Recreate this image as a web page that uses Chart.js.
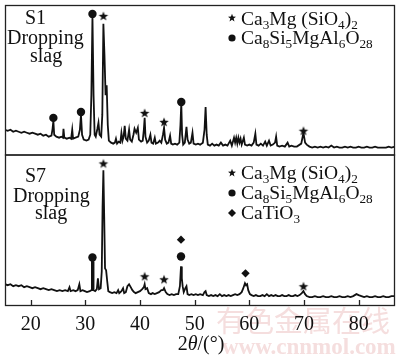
<!DOCTYPE html>
<html><head><meta charset="utf-8">
<script src="https://cdn.jsdelivr.net/npm/chart.js@4"></script>
<style>html,body{margin:0;padding:0;background:#fff}canvas{display:block}</style>
</head><body>
<canvas id="c" width="400" height="355"></canvas>
<script>
// ---- data (2θ in degrees, intensity in arbitrary units) ----
const xTicks = [20, 30, 40, 50, 60, 70, 80];
const s1Pattern = [
[15.3,25],[15.8,24],[16.3,25],[16.8,23],[17.3,24],[17.8,23],[18.3,22],[18.8,23],[19.3,22],[19.8,21],
[20.3,22],[20.8,21],[21.3,20],[21.8,21],[22.3,19],[22.8,20],[23.3,18],[23.8,19],[24.0,26],[24.15,34],
[24.3,20],[24.7,18],[25.2,17],[25.6,18],[25.9,17],[26.0,26],[26.15,17],[26.6,16],[27.1,17],[27.4,16],
[27.6,25],[27.75,16],[28.2,17],[28.7,18],[29.0,25],[29.2,40],[29.4,20],[29.7,15],[30.2,14],[30.6,15],
[30.9,20],[31.1,60],[31.3,140],[31.5,60],[31.7,20],[31.9,18],[32.2,26],[32.4,32],[32.6,20],[32.9,18],
[33.1,40],[33.3,132],[33.5,100],[33.7,60],[33.9,70],[34.1,30],[34.3,14],[34.7,12],[35.1,11],[35.4,12],
[35.6,16],[35.8,11],[36.1,13],[36.4,12],[36.6,22],[36.8,14],[37.0,18],[37.2,29],[37.4,16],[37.7,14],
[38.0,25],[38.2,15],[38.5,13],[38.8,20],[39.0,26],[39.3,22],[39.6,27],[39.8,15],[40.2,13],[40.5,14],
[40.7,25],[40.85,37],[41.0,18],[41.3,12],[41.6,14],[41.9,20],[42.1,12],[42.4,11],[42.7,17],[42.9,11],
[43.3,12],[43.6,14],[43.9,12],[44.2,20],[44.4,27],[44.6,15],[44.9,11],[45.2,12],[45.5,19],[45.7,11],
[46.0,10],[46.4,11],[46.8,10],[47.2,12],[47.4,30],[47.55,52],[47.7,20],[47.9,10],[48.2,12],[48.5,28],
[48.7,15],[49.0,11],[49.3,12],[49.6,22],[49.8,11],[50.2,10],[50.6,11],[51.0,10],[51.5,12],[51.8,25],
[52.0,48],[52.2,20],[52.4,10],[52.8,9],[53.2,11],[53.6,9],[54.0,10],[54.4,9],[54.8,12],[55.2,9],
[55.6,10],[56.0,9],[56.5,14],[56.8,9],[57.2,17],[57.4,12],[57.6,17],[57.8,11],[58.0,17],[58.2,12],
[58.4,16],[58.6,10],[59.0,17],[59.2,10],[59.6,9],[60.0,10],[60.4,9],[60.8,12],[61.1,21],[61.3,10],
[61.7,9],[62.1,11],[62.5,9],[62.9,13],[63.2,9],[63.6,14],[63.9,9],[64.3,10],[64.7,12],[64.9,18],
[65.1,9],[65.5,8],[66.0,9],[66.5,8],[67.0,12],[67.3,8],[67.7,9],[68.2,8],[68.7,8],[69.5,11],
[69.9,22],[70.2,12],[70.5,10],[71.0,8],[71.5,7],[72.0,8],[72.5,7],[73.0,8],[73.5,7],[74.0,8],
[74.5,7],[75.0,9],[75.5,7],[76.0,8],[76.5,7],[77.0,7],[77.5,8],[78.0,7],[78.5,8],[79.0,7],
[79.5,7],[80.0,8],[80.5,7],[81.0,7],[81.5,8],[82.0,7],[82.5,7],[83.0,8],[83.5,7],[84.0,7],
[84.5,7],[85.0,7],[85.5,8],[86.0,7],[86.65,8]
];
const s7Pattern = [
[15.3,22],[15.8,21],[16.3,22],[16.8,20],[17.3,21],[17.8,20],[18.3,21],[18.8,19],[19.3,20],[19.8,19],
[20.3,18],[20.8,19],[21.3,18],[21.8,17],[22.3,18],[22.8,17],[23.3,16],[23.8,17],[24.3,16],[24.8,15],
[25.3,16],[25.8,15],[26.3,16],[26.8,15],[27.1,19],[27.3,15],[27.8,16],[28.2,15],[28.6,16],[28.9,22],
[29.1,15],[29.5,16],[29.9,15],[30.3,14],[30.8,15],[31.1,16],[31.2,45],[31.4,45],[31.5,16],[31.8,15],
[32.1,17],[32.3,28],[32.5,17],[32.8,18],[33.0,35],[33.15,100],[33.3,137],[33.45,90],[33.6,38],[33.8,36],
[34.0,25],[34.2,15],[34.5,14],[34.9,13],[35.3,14],[35.7,13],[36.0,16],[36.2,13],[36.6,15],[36.9,18],
[37.1,13],[37.4,14],[37.7,20],[38.0,22],[38.3,19],[38.6,16],[38.9,14],[39.2,13],[39.6,14],[40.0,15],
[40.4,17],[40.7,19],[40.85,22],[41.0,17],[41.3,18],[41.6,13],[42.0,12],[42.3,13],[42.7,12],[43.1,13],
[43.5,14],[43.9,16],[44.2,16],[44.4,18],[44.7,14],[45.0,12],[45.4,11],[45.8,12],[46.2,11],[46.6,12],
[47.0,12],[47.3,20],[47.5,40],[47.65,28],[47.8,20],[48.0,14],[48.3,18],[48.5,20],[48.7,12],[49.0,11],
[49.4,12],[49.8,11],[50.2,12],[50.6,11],[51.0,12],[51.5,11],[51.8,14],[52.0,15],[52.2,11],[52.6,10],
[53.0,11],[53.4,10],[53.8,11],[54.2,10],[54.6,12],[55.0,10],[55.4,11],[55.8,10],[56.2,11],[56.6,10],
[57.0,11],[57.4,12],[57.8,11],[58.2,12],[58.6,14],[58.9,18],[59.2,23],[59.4,21],[59.6,22],[59.8,16],
[60.1,12],[60.4,11],[60.8,10],[61.2,11],[61.6,10],[62.0,10],[62.4,11],[62.8,10],[63.2,12],[63.6,10],
[64.0,11],[64.4,10],[64.8,11],[65.2,10],[65.6,10],[66.0,11],[66.4,10],[66.8,10],[67.2,11],[67.6,10],
[68.0,10],[68.4,11],[68.8,10],[69.2,11],[69.6,13],[69.9,15],[70.2,12],[70.5,10],[71.0,9],[71.5,9],
[72.0,10],[72.5,9],[73.0,9],[73.5,10],[74.0,9],[74.5,9],[75.0,10],[75.5,9],[76.0,9],[76.5,10],
[77.0,9],[77.5,9],[78.0,10],[78.5,9],[79.0,10],[79.6,12],[80.0,11],[80.5,10],[81.0,9],[81.5,10],
[82.0,9],[82.5,9],[83.0,10],[83.5,9],[84.0,9],[84.5,10],[85.0,9],[85.5,9],[86.0,10],[86.65,10]
];
const s1Stars   = [[33.3,140],[40.85,42],[44.4,33],[69.9,24]];
const s1Circles = [[31.3,142],[24.15,37],[29.2,43],[47.55,53]];
const s7Stars   = [[33.3,144],[40.85,30],[44.4,27],[69.9,20]];
const s7Circles = [[31.3,49],[47.5,50]];
const s7Diamonds= [[47.5,67],[59.3,33]];
const s1Label = ['S1','Dropping','slag'];
const s7Label = ['S7','Dropping','slag'];
const phaseStar = [['Ca',0],['3',1],['Mg (SiO',0],['4',1],[')',0],['2',1]];
const phaseCircle = [['Ca',0],['8',1],['Si',0],['5',1],['MgAl',0],['6',1],['O',0],['28',1]];
const phaseDiamond = [['CaTiO',0],['3',1]];

// ---- helpers ----
const INK = '#111';
const SERIF = '"Liberation Serif", "Times New Roman", serif';
const toXY = arr => arr.map(p => ({x:p[0], y:p[1]}));
function starPath(g, cx, cy, r){
  g.beginPath();
  for(let i=0;i<10;i++){const a=-Math.PI/2+i*Math.PI/5;const rr=i%2?r*0.42:r;g.lineTo(cx+rr*Math.cos(a),cy+rr*Math.sin(a));}
  g.closePath();
}
function starCanvas(r){
  const s=Math.ceil(r*2+2);const c=document.createElement('canvas');c.width=c.height=s;
  const g=c.getContext('2d');g.fillStyle=INK;starPath(g,s/2,s/2+0.5,r);g.fill();return c;
}
const starImg = starCanvas(5);

const lineDs = (pts, axis) => ({type:'line', data: toXY(pts), yAxisID: axis, borderColor: INK, borderWidth: 1.8,
  pointRadius: 0, tension: 0, fill: false, order: 2});
const markDs = (pts, axis, style, r) => ({type:'line', data: toXY(pts), yAxisID: axis, showLine: false,
  pointStyle: style, pointRadius: r, pointBackgroundColor: INK, pointBorderColor: INK, pointBorderWidth: 0, order: 1, clip: false});

function drawRich(g, segs, x, y, size){
  let cx = x;
  for(const [t, sub] of segs){
    const fs = sub ? size*0.68 : size;
    g.font = fs + 'px ' + SERIF;
    g.fillText(t, cx, y + (sub ? size*0.22 : 0));
    cx += g.measureText(t).width;
  }
}

const framePlugin = {
  id: 'frame',
  beforeDraw(chart){
    const g = chart.ctx;
    g.save();
    g.fillStyle = '#f5dede';
    g.font = '29px "Noto Sans CJK SC", sans-serif';
    g.textBaseline = 'alphabetic';
    g.fillText('有色金属在线', 216, 332);
    g.font = 'bold 23px ' + SERIF;
    g.fillText('www.cnnmol.com', 222, 354);
    g.restore();
  },
  afterDraw(chart){
    const g = chart.ctx, a = chart.chartArea, xs = chart.scales.x;
    const top = chart.scales.yTop, bot = chart.scales.yBot;
    g.save();
    g.strokeStyle = '#222'; g.lineWidth = 1.3;
    g.strokeRect(a.left+0.5, top.top+0.5, a.right-a.left-1, top.bottom-top.top);
    g.strokeRect(a.left+0.5, bot.top+0.5, a.right-a.left-1, bot.bottom-bot.top-1);
    // inward tick marks
    g.beginPath();
    for(const v of xTicks){ const px = Math.round(xs.getPixelForValue(v))+0.5; g.moveTo(px, bot.bottom); g.lineTo(px, bot.bottom-6); }
    g.stroke();
    // sample labels
    g.fillStyle = INK; g.textBaseline = 'alphabetic'; g.textAlign = 'left';
    g.font = '20px ' + SERIF;
    g.fillText(s1Label[0], 25, 24); g.fillText(s1Label[1], 7, 44); g.fillText(s1Label[2], 30, 62);
    g.fillText(s7Label[0], 25, 182); g.fillText(s7Label[1], 13, 202); g.fillText(s7Label[2], 35, 219);
    // phase keys
    drawRich(g, phaseStar, 241, 25, 19.5);
    drawRich(g, phaseCircle, 241, 44, 19.5);
    drawRich(g, phaseStar, 241, 179, 19.5);
    drawRich(g, phaseCircle, 241, 199, 19.5);
    drawRich(g, phaseDiamond, 241, 219, 19.5);
    starPath(g, 232, 18, 4.2); g.fill();
    g.beginPath(); g.arc(232, 38, 3.6, 0, Math.PI*2); g.fill();
    starPath(g, 232, 173, 4.2); g.fill();
    g.beginPath(); g.arc(232, 193, 3.6, 0, Math.PI*2); g.fill();
    g.beginPath(); g.moveTo(232, 209); g.lineTo(236, 213); g.lineTo(232, 217); g.lineTo(228, 213); g.closePath(); g.fill();
    // axis title with italic theta
    g.font = '20px ' + SERIF;
    const w1 = g.measureText('2').width;
    g.font = 'italic 20px ' + SERIF;
    const w2 = g.measureText('θ').width;
    g.font = '20px ' + SERIF;
    const w3 = g.measureText('/(°)').width;
    let x0 = 201 - (w1+w2+w3)/2;
    g.fillText('2', x0, 350);
    g.font = 'italic 20px ' + SERIF; g.fillText('θ', x0+w1, 350);
    g.font = '20px ' + SERIF; g.fillText('/(°)', x0+w1+w2, 350);
    g.restore();
  }
};

const hideY = { ticks: { display: false }, grid: { display: false }, border: { display: false },
  afterFit: s => { s.width = 0; } };

new Chart(document.getElementById('c'), {
  type: 'line',
  data: { datasets: [
    lineDs(s1Pattern, 'yTop'),
    lineDs(s7Pattern, 'yBot'),
    markDs(s1Stars, 'yTop', starImg, 5),
    markDs(s1Circles, 'yTop', 'circle', 4.2),
    markDs(s7Stars, 'yBot', starImg, 5),
    markDs(s7Circles, 'yBot', 'circle', 4.2),
    markDs(s7Diamonds, 'yBot', 'rectRot', 4.2)
  ]},
  options: {
    responsive: false, animation: false, devicePixelRatio: 1,
    layout: { padding: { top: 1, left: 1, right: 2, bottom: 0 } },
    plugins: { legend: { display: false }, tooltip: { enabled: false } },
    scales: {
      x: { type: 'linear', min: 15.3, max: 86.65,
        afterBuildTicks: s => { s.ticks = xTicks.map(v => ({value: v})); },
        afterFit: s => { s.height = 49; },
        grid: { display: false, drawTicks: false }, border: { display: false },
        ticks: { color: INK, font: { family: SERIF, size: 20 }, padding: 7, maxRotation: 0 } },
      yBot: Object.assign({ type: 'linear', stack: 'panels', stackWeight: 153, min: 0, max: 153, offset: false }, hideY),
      yTop: Object.assign({ type: 'linear', stack: 'panels', stackWeight: 151, min: 0, max: 151, offset: false }, hideY)
    }
  },
  plugins: [framePlugin]
});
</script>
</body></html>
